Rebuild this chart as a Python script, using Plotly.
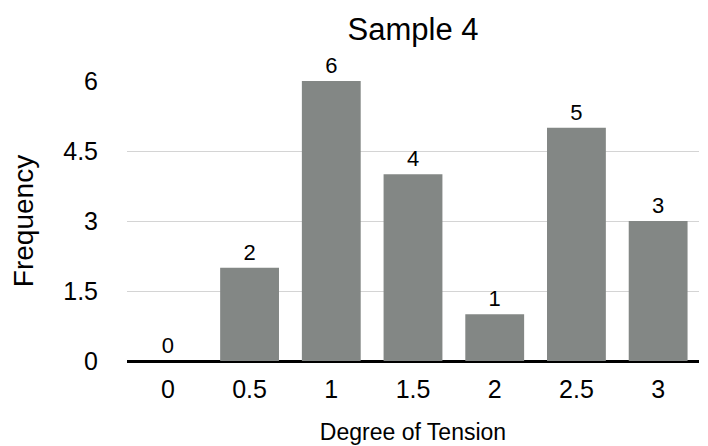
import plotly.graph_objects as go

categories = ["0", "0.5", "1", "1.5", "2", "2.5", "3"]
frequency = [0, 2, 6, 4, 1, 5, 3]
y_ticks = [0, 1.5, 3, 4.5, 6]
y_tick_labels = ["0", "1.5", "3", "4.5", "6"]

FONT = "Liberation Sans, Arial, Helvetica, sans-serif"
BAR_COLOR = "#838785"

fig = go.Figure()
fig.add_trace(go.Bar(
    x=categories,
    y=frequency,
    marker=dict(color=BAR_COLOR, line=dict(width=0)),
    text=[str(v) for v in frequency],
    textposition="outside",
    constraintext="none",
    textfont=dict(family=FONT, size=22, color="#000000"),
    cliponaxis=False,
    hoverinfo="x+y",
))

fig.update_layout(
    width=708,
    height=446,
    margin=dict(l=127, r=9, t=81, b=85),
    paper_bgcolor="white",
    plot_bgcolor="white",
    bargap=0.28,
    showlegend=False,
    font=dict(family=FONT, color="#000000"),
    title=dict(
        text="Sample 4",
        x=0.5,
        xref="paper",
        xanchor="center",
        y=1 - 29 / 446,
        yref="container",
        yanchor="middle",
        font=dict(family=FONT, size=31, color="#000000"),
    ),
    xaxis=dict(
        type="category",
        automargin=False,
        tickfont=dict(family=FONT, size=25, color="#000000"),
        ticks="",
        ticklabelstandoff=11,
        showgrid=False,
        showline=False,
        zeroline=False,
        title=dict(
            text="Degree of Tension",
            font=dict(family=FONT, size=23, color="#000000"),
            standoff=21,
        ),
    ),
    yaxis=dict(
        range=[0, 6],
        automargin=False,
        tickmode="array",
        tickvals=y_ticks,
        ticktext=y_tick_labels,
        tickfont=dict(family=FONT, size=25, color="#000000"),
        ticks="",
        ticklabelstandoff=28,
        showgrid=True,
        gridcolor="#d4d4d4",
        gridwidth=1,
        zeroline=True,
        zerolinecolor="#000000",
        zerolinewidth=2.5,
        showline=False,
        title=dict(
            text="Frequency",
            font=dict(family=FONT, size=28, color="#000000"),
            standoff=21,
        ),
    ),
)

fig.write_html(
    "out.html",
    config={"displayModeBar": False},
    post_script="document.body.style.margin='0';document.body.style.overflow='hidden';",
)
